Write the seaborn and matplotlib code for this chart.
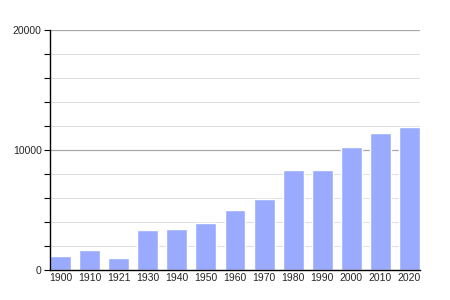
import matplotlib
matplotlib.use("Agg")
import matplotlib.pyplot as plt
import seaborn as sns
import pandas as pd
from matplotlib.ticker import MultipleLocator

years = ["1900", "1910", "1921", "1930", "1940", "1950", "1960",
         "1970", "1980", "1990", "2000", "2010", "2020"]
population = [1170, 1670, 1000, 3330, 3420, 3920, 5000,
              5940, 8330, 8330, 10250, 11390, 11920]
ytick_labels = ["0", "10000", "20000"]

sns.set_theme(style="white")
plt.rcParams['font.family'] = ['Liberation Sans', 'DejaVu Sans']

df = pd.DataFrame({"year": years, "pop": population})

fig = plt.figure(figsize=(4.5, 3), dpi=100)
ax = fig.add_axes([50/450, 30/300, 370/450, 240/300])
w = 0.722
sns.barplot(data=df, x="year", y="pop", color="#9aabff", saturation=1,
            width=w, ax=ax, zorder=3)
ax.set_xlim(-w/2, len(years) - 1 + w/2)
ax.set_ylim(0, 20000)

ax.set_yticks([0, 10000, 20000])
ax.set_yticklabels(ytick_labels)
ax.yaxis.set_minor_locator(MultipleLocator(2000))
for v in range(2000, 20000, 2000):
    if v != 10000:
        ax.axhline(v, color="#e0e0e0", lw=0.8, zorder=1)
for v in (10000, 20000):
    ax.axhline(v, color="#a8a8a8", lw=0.9, zorder=1)

ax.tick_params(axis="y", which="both", direction="out", length=4, width=0.8,
               color="black", left=True, labelsize=7.5, pad=2)
ax.tick_params(axis="x", length=0, labelsize=7.5, pad=2)
ax.set_xlabel("")
ax.set_ylabel("")
for s in ("top", "right"):
    ax.spines[s].set_visible(False)
for s in ("left", "bottom"):
    ax.spines[s].set_color("black")
    ax.spines[s].set_linewidth(1.0)
    ax.spines[s].set_zorder(5)

fig.savefig("out.png", dpi=100)
